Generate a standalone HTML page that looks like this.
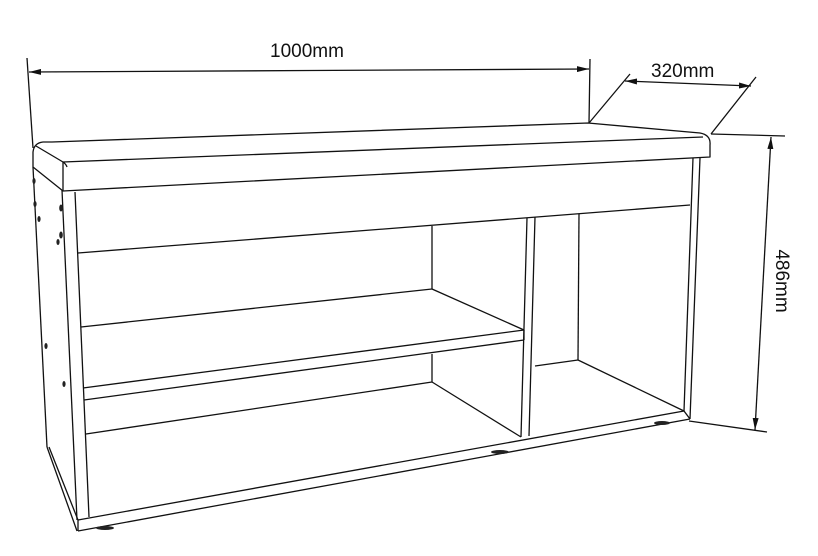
<!DOCTYPE html>
<html><head><meta charset="utf-8"><style>
html,body{margin:0;padding:0;background:#fff;}
svg{display:block;}
text{font-family:"Liberation Sans",Arial,sans-serif;fill:#111;}
</style></head><body>
<svg width="818" height="556" viewBox="0 0 818 556" xmlns="http://www.w3.org/2000/svg">
<defs>
<marker id="ar" viewBox="0 0 12 6" refX="12" refY="3" markerWidth="12" markerHeight="6" orient="auto" markerUnits="userSpaceOnUse">
<path d="M0,0 L12,3 L0,6 Z" fill="#111"/>
</marker>
</defs>
<g stroke="#111" stroke-width="1.3" fill="none" stroke-linejoin="round">
<line x1="27" y1="58" x2="33" y2="148"/>
<line x1="590" y1="59" x2="589" y2="123"/>
<line x1="310" y1="70.5" x2="29" y2="72" marker-end="url(#ar)"/>
<line x1="310" y1="70.5" x2="589" y2="69" marker-end="url(#ar)"/>
<line x1="589" y1="123" x2="630" y2="74"/>
<line x1="711" y1="134" x2="756" y2="77"/>
<line x1="688" y1="83.5" x2="625" y2="81" marker-end="url(#ar)"/>
<line x1="688" y1="83.5" x2="751" y2="86" marker-end="url(#ar)"/>
<line x1="711" y1="134" x2="785" y2="136"/>
<line x1="689" y1="421" x2="767" y2="432"/>
<line x1="763" y1="283" x2="771" y2="137" marker-end="url(#ar)"/>
<line x1="763" y1="283" x2="755" y2="430" marker-end="url(#ar)"/>

<path d="M52,142 L588,123 L700,133 Q711,135 710,145 L710,157 L63,191 L33,167 L33,152 Q34,143 43,142 Z"/>
<path d="M36,146 L63,162 Q66,164 67,167"/>
<line x1="63" y1="162" x2="703" y2="137"/>
<line x1="63" y1="162" x2="63" y2="191"/>

<line x1="33" y1="167" x2="47" y2="447"/>
<line x1="47" y1="447" x2="77" y2="531"/>
<line x1="49" y1="447" x2="78" y2="520"/>
<line x1="62" y1="190" x2="77" y2="520"/>
<line x1="75" y1="192" x2="89" y2="517"/>

<line x1="693" y1="158" x2="684" y2="411"/>
<line x1="700" y1="158" x2="690" y2="419"/>

<line x1="78" y1="253" x2="690" y2="205"/>

<line x1="527" y1="218" x2="521" y2="437"/>
<line x1="535" y1="217" x2="529" y2="436"/>

<line x1="432" y1="226" x2="432" y2="289"/>
<line x1="432" y1="354" x2="432" y2="382"/>
<line x1="579" y1="214" x2="578" y2="360"/>

<line x1="81" y1="327" x2="432" y2="289"/>
<line x1="432" y1="289" x2="524" y2="330"/>
<line x1="83" y1="388" x2="524" y2="330"/>
<line x1="84" y1="400" x2="524" y2="340"/>
<line x1="524" y1="330" x2="524" y2="340"/>

<line x1="86" y1="434" x2="432" y2="382"/>
<line x1="432" y1="382" x2="521" y2="437"/>

<line x1="535" y1="366" x2="578" y2="360"/>
<line x1="578" y1="360" x2="684" y2="411"/>

<line x1="78" y1="520" x2="684" y2="411"/>
<line x1="78" y1="531" x2="690" y2="419"/>
<line x1="78" y1="520" x2="78" y2="531"/>
<line x1="684" y1="411" x2="690" y2="419"/>
</g>
<g fill="#222">
<ellipse cx="105" cy="528" rx="9" ry="2"/>
<ellipse cx="500" cy="452" rx="9" ry="2"/>
<ellipse cx="662" cy="423" rx="8" ry="2"/>
<ellipse cx="34" cy="181" rx="1.6" ry="3"/>
<ellipse cx="35" cy="204" rx="1.6" ry="3"/>
<ellipse cx="39" cy="219" rx="1.6" ry="3"/>
<ellipse cx="61" cy="208" rx="1.8" ry="3.5"/>
<ellipse cx="61" cy="235" rx="1.8" ry="3.5"/>
<ellipse cx="58" cy="242" rx="1.6" ry="3"/>
<ellipse cx="46" cy="346" rx="1.6" ry="3"/>
<ellipse cx="64" cy="384" rx="1.6" ry="3"/>
</g>
<text x="270" y="57" font-size="19">1000mm</text>
<text x="651" y="77" font-size="19">320mm</text>
<text x="0" y="0" font-size="19" text-anchor="middle" transform="translate(776,281) rotate(90)">486mm</text>
</svg>
</body></html>
